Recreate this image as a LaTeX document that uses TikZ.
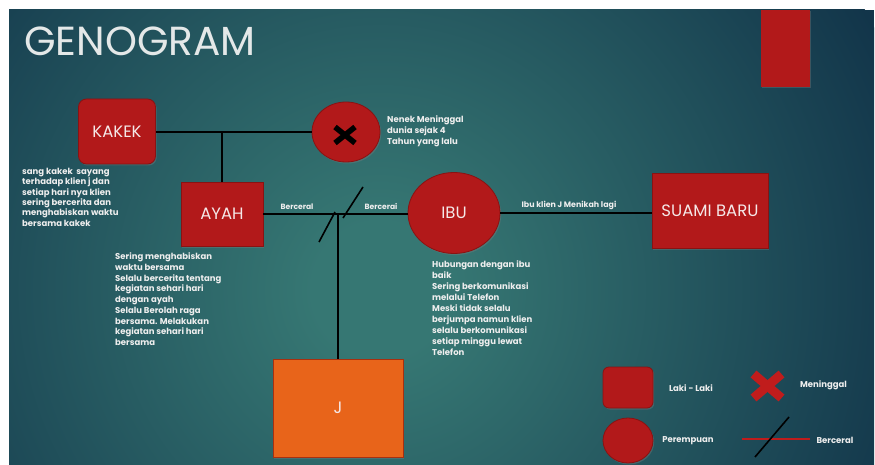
\documentclass[tikz,border=0pt]{standalone}
\usepackage{fontspec}
\setmainfont{Poppins}
\usetikzlibrary{shapes.geometric,shadows}
\definecolor{bgin}{HTML}{367773}
\definecolor{bgout}{HTML}{12354A}
\definecolor{redf}{HTML}{B2191A}
\definecolor{redd}{HTML}{8A1212}
\definecolor{orangef}{HTML}{E8641A}
\definecolor{oranged}{HTML}{A8300F}
\definecolor{txt}{HTML}{EEEEEE}
\definecolor{titlec}{HTML}{E4E8E8}
\definecolor{boxtxt}{HTML}{F5E8E8}
\definecolor{legred}{HTML}{C01C1C}
\pgfdeclareradialshading{bgshade}{\pgfpoint{0bp}{0bp}}{color(0bp)=(bgin); color(3bp)=(bgin); color(25bp)=(bgout); color(50bp)=(bgout)}
\begin{document}
\begin{tikzpicture}[x=1pt,y=-1pt,
  shd/.style={drop shadow={opacity=0.35,shadow xshift=1.2pt,shadow yshift=-1.5pt}},
  malebox/.style={draw=redd,fill=redf,line width=0.8pt,text=boxtxt,font=\fontsize{16.5}{17}\selectfont,shd},
  femell/.style={ellipse,draw=redd,fill=redf,line width=0.8pt,text=boxtxt,font=\fontsize{16.5}{17}\selectfont,inner sep=0pt,shd},
  jbox/.style={draw=oranged,fill=orangef,line width=1pt,text=boxtxt,font=\fontsize{16.5}{17}\selectfont,shd},
  conn/.style={draw=black,line width=1.6pt},
  note/.style={anchor=base west,align=left,text=txt,inner sep=0pt},
  lab/.style={text=txt,inner sep=0pt,font=\bfseries\fontsize{7.6}{8}\selectfont},
  leglab/.style={text=txt,inner sep=0pt,font=\bfseries\fontsize{8.5}{9}\selectfont}]
\useasboundingbox (0,0) rectangle (875,465);
\fill[white] (0,0) rectangle (875,465);
\begin{scope}
  \clip (9,10) rectangle (874,465);
  \fill[bgout] (9,10) rectangle (874,465);
  \shade[shading=bgshade] (380,290) circle (560);
\end{scope}
% title and decoration
\node[anchor=base west,inner sep=0pt,text=titlec,font=\fontsize{40.6}{41}\selectfont] (title) at (24,56) {GENOGRAM};
\node[fill=redf,minimum width=49pt,minimum height=77pt,inner sep=0pt,shd] (deco) at (785.5,48.5) {};
% people
\node[malebox,rounded corners=8pt,minimum width=77pt,minimum height=65pt] (kakek) at (117,131.5) {KAKEK};
\node[femell,minimum width=68pt,minimum height=60pt] (nenek) at (346,132) {};
\node[malebox,minimum width=82pt,minimum height=64pt] (ayah) at (222,214) {AYAH};
\node[femell,minimum width=92pt,minimum height=81pt] (ibu) at (454,213) {IBU};
\node[malebox,minimum width=116pt,minimum height=75pt] (suami) at (710,211) {SUAMI BARU};
\node[jbox,minimum width=130pt,minimum height=98pt] (j) at (338,408) {J};
% deceased mark
\coordinate (nx) at (345,135);
\draw[black,line width=5.5pt] ([shift={(-10,-8)}]nx) -- ([shift={(10,8)}]nx);
\draw[black,line width=5.5pt] ([shift={(-10,8)}]nx) -- ([shift={(10,-8)}]nx);
% connectors
\coordinate (kmid) at (222,132);
\draw[conn] (kakek.east |- kmid) -- (nenek.west |- kmid);
\draw[conn] (kmid) -- (ayah.north);
\coordinate (split) at (338,214);
\draw[conn] (ayah.east |- split) -- (ibu.west |- split);
\draw[conn] (split) -- (j.north);
\draw[black,line width=1.6pt] ([shift={(-19,28)}]split) -- ([shift={(-3,-2)}]split);
\draw[black,line width=1.6pt] ([shift={(5,4)}]split) -- ([shift={(25,-27)}]split);
\coordinate (ibuline) at (500,213);
\draw[conn] (ibu.east |- ibuline) -- (suami.west |- ibuline);
% labels
\node[lab] (b1) at (297,207) {Berceral};
\node[lab] (b2) at (381,206) {Bercerai};
\node[lab,font=\bfseries\fontsize{7.9}{8}\selectfont] (menikah) at (569,205) {Ibu klien J Menikah lagi};
% notes (anchored at the baseline of the last line)
\node[note,font=\bfseries\fontsize{8.5}{10.3}\selectfont] (nkakek) at (22,226) {sang kakek\ \ sayang\\terhadap klien j dan\\setiap hari nya klien\\sering bercerita dan\\menghabiskan waktu\\bersama kakek};
\node[note,font=\bfseries\fontsize{8.5}{11}\selectfont] (nenektxt) at (387,145) {Nenek Meninggal\\dunia sejak 4\\Tahun yang lalu};
\node[note,font=\bfseries\fontsize{8.5}{10.75}\selectfont] (nayah) at (115,345.5) {Sering menghabiskan\\waktu bersama\\Selalu bercerita tentang\\kegiatan sehari hari\\dengan ayah\\Selalu Berolah raga\\bersama. Melakukan\\kegiatan sehari hari\\bersama};
\node[note,font=\bfseries\fontsize{8.5}{10.9}\selectfont] (nibu) at (432,355) {Hubungan dengan ibu\\baik\\Sering berkomunikasi\\melalui Telefon\\Meski tidak selalu\\berjumpa namun klien\\selalu berkomunikasi\\setiap minggu lewat\\Telefon};
% legend
\node[malebox,rounded corners=6pt,minimum width=50pt,minimum height=41pt] (lm) at (628,387.5) {};
\node[leglab] (lmt) at (691,388) {Laki - Laki};
\coordinate (lx) at (767.5,386);
\draw[legred,line width=9pt] ([shift={(-14,-12)}]lx) -- ([shift={(14,12)}]lx);
\draw[legred,line width=9pt] ([shift={(-14,12)}]lx) -- ([shift={(14,-12)}]lx);
\node[leglab] (lxt) at (823.5,385) {Meninggal};
\node[femell,minimum width=50pt,minimum height=45pt] (lf) at (628,440.5) {};
\node[leglab] (lft) at (688,441) {Perempuan};
\coordinate (ldl) at (742,439);
\coordinate (ldr) at (810,439);
\draw[legred,line width=1.8pt] (ldl) -- (ldr);
\draw[black,line width=1.6pt] ([shift={(13,18)}]ldl) -- ([shift={(47,-22)}]ldl);
\node[leglab] (ldt) at (835,440) {Berceral};
\end{tikzpicture}
\end{document}
